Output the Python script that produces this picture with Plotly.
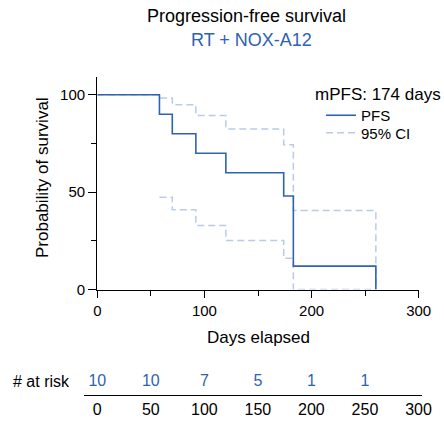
import plotly.graph_objects as go

# ---- data ----
pfs_days = [0, 58, 70, 92, 120, 174, 183, 260]
pfs_prob = [100, 90, 80, 70, 60, 48, 12, 0]

ci_upper_days = [0, 58, 70, 92, 120, 174, 183, 260]
ci_upper_prob = [100, 98.3, 94.9, 89.4, 82.5, 74.3, 40.6, 0]

ci_lower_days = [58, 70, 92, 120, 174, 183, 260]
ci_lower_prob = [47.4, 40.9, 32.9, 25.2, 16.1, 0, 0]

risk_days = [0, 50, 100, 150, 200, 250]
risk_counts = ["10", "10", "7", "5", "1", "1"]
risk_axis_ticks = [0, 50, 100, 150, 200, 250, 300]

W, H = 444, 425
BLUE = "#2f62b0"
CI_BLUE = "#b9cbe8"
FONT = "Liberation Sans, Arial, sans-serif"

def px(x):
    return x / W

def py(y):
    return 1 - y / H

fig = go.Figure()

fig.add_trace(go.Scatter(
    x=ci_upper_days, y=ci_upper_prob, mode="lines", line_shape="hv",
    line=dict(color=CI_BLUE, width=1.5, dash="7px,4px"),
    name="95% CI", showlegend=True, legend="legend2",
))
fig.add_trace(go.Scatter(
    x=ci_lower_days, y=ci_lower_prob, mode="lines", line_shape="hv",
    line=dict(color=CI_BLUE, width=1.5, dash="7px,4px"),
    name="95% CI lower", showlegend=False,
))
fig.add_trace(go.Scatter(
    x=pfs_days, y=pfs_prob, mode="lines", line_shape="hv",
    line=dict(color=BLUE, width=1.6),
    name="PFS", showlegend=True, legend="legend",
))

fig.add_trace(go.Scatter(
    x=risk_days, y=[0.5] * len(risk_days), mode="text", text=risk_counts,
    textfont=dict(color=BLUE, size=16, family=FONT),
    xaxis="x2", yaxis="y2", showlegend=False, hoverinfo="skip",
))

axis_common = dict(
    showline=True, linecolor="black", linewidth=1.3, showgrid=False,
    zeroline=False, ticks="outside", tickcolor="black", tickwidth=1.3,
    tickfont=dict(size=15, family=FONT, color="black"), automargin=False,
)

def ann(text, x, y, size, color="black", **kw):
    return dict(text=text, x=px(x), y=py(y), xref="paper", yref="paper",
                showarrow=False, xanchor=kw.pop("xanchor", "center"),
                yanchor="middle", font=dict(size=size, family=FONT, color=color),
                **kw)

legend_common = dict(
    xanchor="left", yanchor="middle", bgcolor="rgba(0,0,0,0)",
    borderwidth=0, font=dict(size=15, family=FONT, color="black"),
)

fig.update_layout(
    width=W, height=H,
    margin=dict(l=0, r=0, t=0, b=0, autoexpand=False),
    paper_bgcolor="white", plot_bgcolor="white",
    font=dict(family=FONT, color="black"),
    xaxis=dict(
        domain=[px(97.3), px(418.7)], range=[0, 300], anchor="y",
        tickvals=[0, 100, 200, 300], ticklen=7,
        minor=dict(tickvals=[50, 150, 250], ticklen=5, ticks="outside",
                   tickcolor="black", tickwidth=1.3),
        **axis_common,
    ),
    yaxis=dict(
        domain=[py(289.5), py(76.7)], range=[0, 109.3], anchor="x",
        tickvals=[0, 50, 100], ticklen=8,
        minor=dict(tickvals=[25, 75], ticklen=5, ticks="outside",
                   tickcolor="black", tickwidth=1.3),
        **axis_common,
    ),
    xaxis2=dict(
        domain=[px(84), px(421.7)], range=[-12.4, 303], anchor="y2",
        showline=True, linecolor="black", linewidth=1.3, showgrid=False,
        zeroline=False, ticks="", tickvals=risk_axis_ticks,
        tickfont=dict(size=16, family=FONT, color="black"), automargin=False,
    ),
    yaxis2=dict(
        domain=[py(395), py(368.5)], range=[0, 1], anchor="x2",
        visible=False, automargin=False,
    ),
    legend=dict(x=px(321), y=py(115.5), **legend_common),
    legend2=dict(x=px(321), y=py(133), **legend_common),
    annotations=[
        ann("Progression-free survival", 246, 16, 18),
        ann("RT + NOX-A12", 251, 40, 18, BLUE),
        ann("Probability of survival", 42, 178, 17, textangle=-90),
        ann("Days elapsed", 258, 337, 17),
        ann("# at risk", 72, 381.5, 16, xanchor="right"),
        ann("mPFS: 174 days", 313, 94.5, 17, xanchor="left"),
    ],
)

fig.write_html("out.html")
